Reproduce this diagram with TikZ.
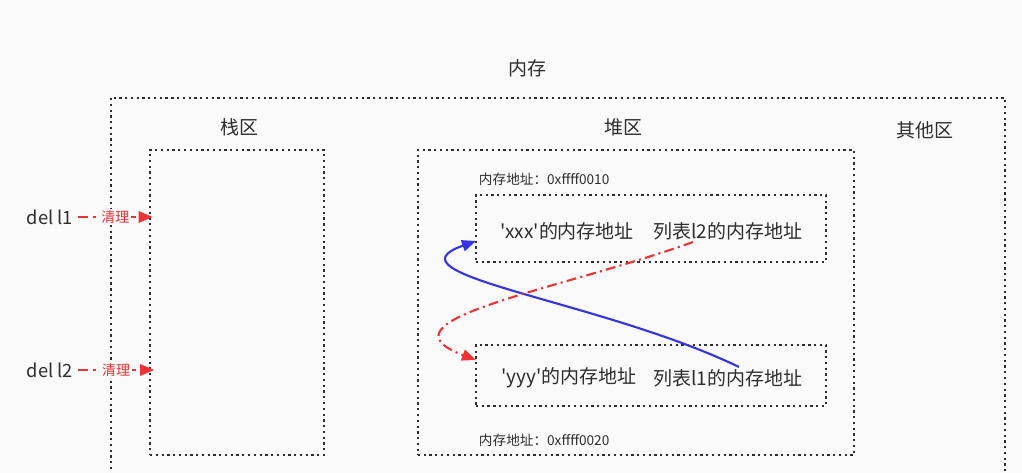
\documentclass[tikz,border=0pt]{standalone}
\usepackage{fontspec}
\setmainfont{Noto Sans CJK SC}[Ligatures=TeXOff]
\usetikzlibrary{arrows.meta}
\definecolor{bgcol}{RGB}{250,250,250}
\definecolor{inkcol}{RGB}{45,45,45}
\definecolor{redcol}{RGB}{236,52,52}
\definecolor{bluecol}{RGB}{52,52,226}
\tikzset{
  dotbox/.style={draw=inkcol, line width=2pt, dash pattern=on 1.6pt off 2.5pt, inner sep=0pt},
  zone_lbl/.style={text=inkcol, font=\fontsize{13.5}{15}\selectfont},
  addr_lbl/.style={text=inkcol, font=\fontsize{9.7}{11}\selectfont, anchor=west},
  del_lbl/.style={text=inkcol, font=\fontsize{13}{15}\selectfont},
  clean_arrow/.style={draw=redcol, line width=1.6pt, dash pattern=on 7pt off 4pt on 2pt off 4pt,
    -{Triangle[length=10pt, width=8pt]}},
  clean_lbl/.style={text=redcol, fill=bgcol, inner sep=1pt, font=\fontsize{10}{12}\selectfont},
}
\begin{document}
\begin{tikzpicture}[x=0.025cm, y=-0.025cm]
  \fill[bgcol] (0,0) rectangle (1022,473);
  \useasboundingbox (0,0) rectangle (1022,473);
  % draw outer memory box and titles
  \draw[dotbox] (111,98) rectangle (1005,495);
  \node[zone_lbl] (mem_title) at (527,68) {内存};
  \node[zone_lbl] (stack_title) at (239,127) {栈区};
  \node[zone_lbl] (heap_title) at (623,127) {堆区};
  \node[zone_lbl] (other_title) at (925,130) {其他区};
  % draw stack and heap boxes
  \node[dotbox, minimum width=4.35cm, minimum height=7.625cm] (stack_box) at (237,302.5) {};
  \node[dotbox, minimum width=10.9cm, minimum height=7.625cm] (heap_box) at (636,302.5) {};
  % draw the two list blocks in the heap
  \node[addr_lbl] (addr_top) at (474,179) {内存地址：0xffff0010};
  \node[dotbox, minimum width=8.75cm, minimum height=1.675cm] (blk_top) at (651,228.5) {};
  \node[zone_lbl] (blk_top_xxx) at (567,231) {'xxx'的内存地址};
  \node[zone_lbl] (blk_top_l2) at (728,231) {列表l2的内存地址};
  \node[dotbox, minimum width=8.75cm, minimum height=1.525cm] (blk_bot) at (651,375.5) {};
  \node[zone_lbl] (blk_bot_yyy) at (569,378) {'yyy'的内存地址};
  \node[zone_lbl] (blk_bot_l1) at (728,378) {列表l1的内存地址};
  \node[addr_lbl] (addr_bot) at (474,440) {内存地址：0xffff0020};
  % draw del statements and clean arrows
  \node[del_lbl] (del_l1) at (50,217) {del l1};
  \node[del_lbl] (del_l2) at (50,370) {del l2};
  \draw[clean_arrow] (del_l1.east) -- ([xshift=3pt]stack_box.west |- del_l1.east)
    node[clean_lbl, pos=0.5] (clean_l1) {清理};
  \draw[clean_arrow] (del_l2.east) -- ([xshift=4pt]stack_box.west |- del_l2.east)
    node[clean_lbl, pos=0.5] (clean_l2) {清理};
  % draw cross references between the blocks
  \coordinate (l1_src) at (739,367);
  \coordinate (top_tip) at (476,241);
  \draw[bluecol, line width=1.5pt, -{Triangle[length=10pt, width=8pt]}]
    (l1_src) .. controls (600,300) and (380,275) .. (top_tip);
  \coordinate (l2_src) at (693,242);
  \coordinate (bot_tip) at (476,360);
  \draw[redcol, line width=1.5pt, dash pattern=on 7pt off 3pt on 1.5pt off 3pt,
    -{Triangle[length=10pt, width=8pt]}]
    (l2_src) .. controls (560,290) and (370,320) .. (bot_tip);
\end{tikzpicture}
\end{document}
